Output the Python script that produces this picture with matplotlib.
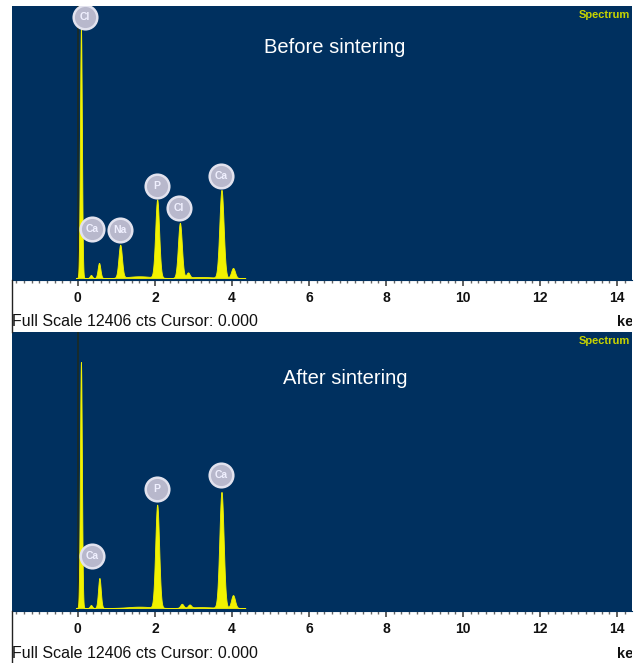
import numpy as np
import matplotlib.pyplot as plt
from matplotlib.transforms import Bbox, TransformedBbox

# EDS peaks: energy (keV), height (counts), width (keV, sigma)
before_energy = [0.08, 0.34, 0.55, 1.10, 1.6, 2.06, 2.65, 2.86, 3.2, 3.73, 4.03]
before_counts = [11400, 140, 690, 1500, 80, 3560, 2510, 230, 50, 4010, 460]
before_width = [0.025, 0.03, 0.035, 0.045, 0.3, 0.05, 0.05, 0.04, 0.3, 0.055, 0.05]

after_energy = [0.08, 0.34, 0.56, 1.6, 2.06, 2.70, 2.90, 3.2, 3.73, 4.03]
after_counts = [11060, 135, 1350, 60, 4630, 180, 135, 40, 5210, 580]
after_width = [0.025, 0.03, 0.035, 0.3, 0.05, 0.04, 0.04, 0.3, 0.055, 0.05]

before_labels = ["Cl", "Ca", "Na", "P", "Cl", "Ca"]
before_lab_x = [0.18, 0.38, 1.09, 2.05, 2.62, 3.71]
before_lab_y = [11900, 2235, 2190, 4200, 3190, 4650]

after_labels = ["Ca", "P", "Ca"]
after_lab_x = [0.36, 2.05, 3.71]
after_lab_y = [2340, 5350, 5980]

full_scale = 12406
bg = "#00305f"
yellow = "#f2f200"

fig = plt.figure(figsize=(6.38, 6.63), dpi=100)
fig.patch.set_facecolor("white")

def panel(rect, energy, counts, width, labels, lx, ly, title, tpos, ylow):
    ax = fig.add_axes(rect)
    ax.set_facecolor(bg)
    e = np.linspace(-0.05, 4.35, 3000)
    spec = np.zeros_like(e)
    for c, h, w in zip(energy, counts, width):
        spec += h * np.exp(-0.5 * ((e - c) / w) ** 2)
    ax.axvline(0, color="#1c2a22", lw=1.2, zorder=1)
    ax.fill_between(e, 0, spec, color=yellow, lw=0.6, zorder=2)
    ax.set_xlim(-1.71, 14.39)
    ax.set_ylim(ylow, full_scale)
    for lab, x, y in zip(labels, lx, ly):
        ax.plot(x, y, "o", ms=17, mfc="#b8b8cc", mec="#e2e2ee", mew=1.8, zorder=3)
        ax.text(x, y, lab, color="#f0f0ff", fontsize=7.5, ha="center", va="center",
                family="Liberation Sans", weight="bold", zorder=4)
    ax.text(tpos[0], tpos[1], title, transform=ax.transAxes, color="white", fontsize=14.5,
            ha="center", va="center", family="Liberation Sans")
    ax.text(0.997, 0.985, "Spectrum", transform=ax.transAxes, color="#c8d400", fontsize=8,
            ha="right", va="top", family="Liberation Sans", weight="bold")
    ax.set_yticks([])
    ax.set_xticks(np.arange(0, 15, 2))
    ax.set_xticks(np.arange(-1.6, 14.4, 0.2), minor=True)
    ax.tick_params(axis="x", which="major", direction="out", length=4, width=1.2,
                   color="#444444", pad=4, labelsize=10, labelcolor="#111111")
    ax.tick_params(axis="x", which="minor", direction="out", length=2.5, width=1,
                   color="#666666")
    for t in ax.get_xticklabels():
        t.set_fontfamily("Liberation Sans")
        t.set_fontweight("bold")
    for s in ["top", "right", "left"]:
        ax.spines[s].set_visible(False)
    ax.spines["bottom"].set_color(bg)
    return ax

ax1 = panel([12/638, 1 - 280/663, 620/638, 274/663], before_energy, before_counts,
            before_width, before_labels, before_lab_x, before_lab_y,
            "Before sintering", (0.52, 0.85), -90)
ax2 = panel([12/638, 1 - 611/663, 620/638, 279/663], after_energy, after_counts,
            after_width, after_labels, after_lab_x, after_lab_y,
            "After sintering", (0.537, 0.835), -135)

clip = TransformedBbox(Bbox([[0, 0], [632/638, 1]]), fig.transFigure)
for ybase in [321, 653]:
    fig.text(12/638, 1 - ybase/663, "Full Scale 12406 cts Cursor: 0.000", fontsize=11.5,
             color="#111111", va="center", ha="left", family="Liberation Sans")
    t = fig.text(617/638, 1 - (ybase + 1)/663, "keV", fontsize=10.5, color="#111111",
                 va="center", ha="left", family="Liberation Sans", weight="bold")
    t.set_clip_on(True)
    t.set_clip_box(clip)

# left frame line of the white strips
fig.add_artist(plt.Line2D([12/638, 12/638], [1 - 332/663, 1 - 280/663],
                          transform=fig.transFigure, color="#222222", lw=1))
fig.add_artist(plt.Line2D([12/638, 12/638], [0, 1 - 611/663],
                          transform=fig.transFigure, color="#222222", lw=1))

fig.savefig("out.png", dpi=100)
